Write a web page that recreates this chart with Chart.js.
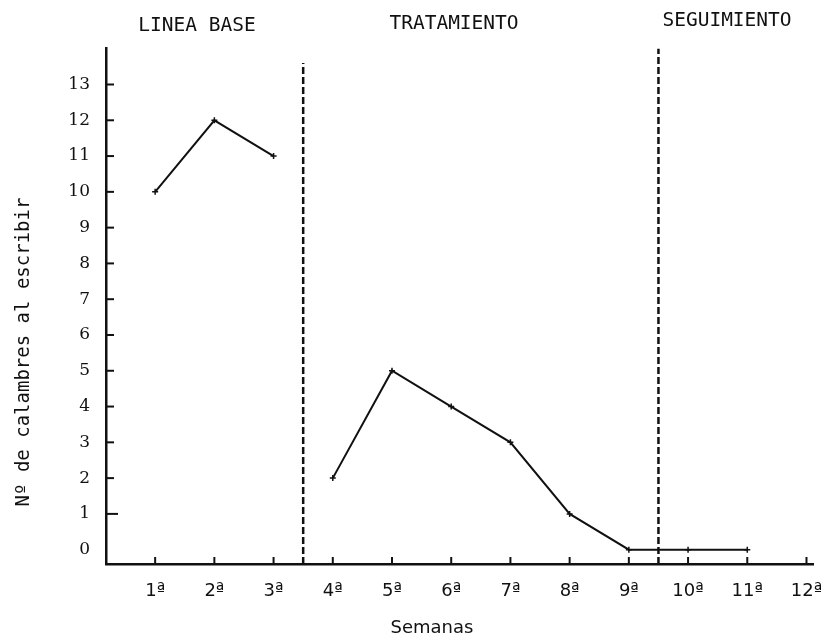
<!DOCTYPE html>
<html>
<head>
<meta charset="utf-8">
<script src="https://cdn.jsdelivr.net/npm/chart.js@4.4.1/dist/chart.umd.min.js"></script>
<style>
  html, body { margin: 0; padding: 0; background: #ffffff; }
  #wrap { width: 821px; height: 639px; }
</style>
</head>
<body>
<div id="wrap"><canvas id="chart" width="821" height="639"></canvas></div>
<script>
// Weeks on the x axis and their labels
const weeks = [1, 2, 3, 4, 5, 6, 7, 8, 9, 10, 11, 12];
const weekLabels = ['1ª', '2ª', '3ª', '4ª', '5ª', '6ª', '7ª', '8ª', '9ª', '10ª', '11ª', '12ª'];

// Baseline phase
const baselineWeeks = [1, 2, 3];
const baselineValues = [10, 12, 11];

// Treatment + follow-up (drawn as one connected line)
const treatmentWeeks = [4, 5, 6, 7, 8, 9, 10, 11];
const treatmentValues = [2, 5, 4, 3, 1, 0, 0, 0];

// Y axis ticks
const yTicks = [0, 1, 2, 3, 4, 5, 6, 7, 8, 9, 10, 11, 12, 13];

// Phase changes (dashed lines) and phase names
const phaseBreaks = [3.5, 9.5];
const phaseBreakTops = [13.6, 14.0];
const phaseNames = ['LINEA BASE', 'TRATAMIENTO', 'SEGUIMIENTO'];

const yMin = -0.4;
const ink = '#111111';

const toPoints = (xs, ys) => xs.map((x, i) => ({ x: x, y: ys[i] }));

// Inward tick marks, extra texts
const decorations = {
    id: 'decorations',
    afterDraw(chart) {
        const ctx = chart.ctx;
        const xs = chart.scales.x;
        const ys = chart.scales.y;
        const area = chart.chartArea;

        ctx.save();
        ctx.strokeStyle = ink;
        ctx.lineWidth = 2;
        weeks.forEach(w => {
            const px = xs.getPixelForValue(w);
            ctx.beginPath();
            ctx.moveTo(px, area.bottom);
            ctx.lineTo(px, area.bottom - 7);
            ctx.stroke();
        });
        yTicks.forEach(v => {
            if (v === 0) return;
            const py = ys.getPixelForValue(v);
            ctx.beginPath();
            ctx.moveTo(area.left, py);
            ctx.lineTo(area.left + (v === 1 ? 12 : 8), py);
            ctx.stroke();
        });

        // phase headers
        ctx.fillStyle = ink;
        ctx.textAlign = 'center';
        ctx.textBaseline = 'middle';
        ctx.font = '19.5px "DejaVu Sans Mono"';
        ctx.fillText(phaseNames[0], 197, 26);
        ctx.fillText(phaseNames[1], 454, 24);
        ctx.fillText(phaseNames[2], 727, 21);

        // x axis title
        ctx.font = '18px "DejaVu Sans"';
        ctx.fillText('Semanas', 432, 628);

        // y axis title
        ctx.translate(24, 352);
        ctx.rotate(-Math.PI / 2);
        ctx.font = '19px "DejaVu Sans Mono"';
        ctx.fillText('Nº de calambres al escribir', 0, 0);
        ctx.restore();
    }
};

const dashedSets = phaseBreaks.map((b, i) => ({
    data: [{ x: b, y: yMin }, { x: b, y: phaseBreakTops[i] }],
    showLine: true,
    borderColor: ink,
    borderWidth: 2.5,
    borderDash: [7, 3],
    pointRadius: 0
}));

const seriesStyle = {
    showLine: true,
    borderColor: ink,
    borderWidth: 2,
    pointStyle: 'cross',
    pointRadius: 3,
    pointBorderWidth: 1.5,
    pointBorderColor: ink
};

new Chart(document.getElementById('chart'), {
    type: 'scatter',
    data: {
        datasets: [
            Object.assign({ data: toPoints(baselineWeeks, baselineValues) }, seriesStyle),
            Object.assign({ data: toPoints(treatmentWeeks, treatmentValues) }, seriesStyle),
            ...dashedSets
        ]
    },
    options: {
        responsive: false,
        animation: false,
        devicePixelRatio: 1,
        layout: { padding: { top: 48, right: 8, left: 0, bottom: 0 } },
        plugins: {
            legend: { display: false },
            tooltip: { enabled: false }
        },
        scales: {
            x: {
                type: 'linear',
                min: 0.17,
                max: 12.11,
                afterBuildTicks: scale => { scale.ticks = weeks.map(v => ({ value: v })); },
                afterFit: scale => {
                    scale.height = 75;
                    scale.paddingLeft = 0;
                    scale.paddingRight = 0;
                },
                grid: { display: false, drawTicks: false },
                border: { display: true, color: ink, width: 2.5 },
                ticks: {
                    color: ink,
                    padding: 17,
                    maxRotation: 0,
                    autoSkip: false,
                    font: { family: 'DejaVu Sans', size: 18 },
                    callback: v => weekLabels[weeks.indexOf(v)]
                }
            },
            y: {
                type: 'linear',
                min: yMin,
                max: 14.02,
                afterBuildTicks: scale => { scale.ticks = yTicks.map(v => ({ value: v })); },
                afterFit: scale => {
                    scale.width = 106;
                    scale.paddingTop = 0;
                    scale.paddingBottom = 0;
                },
                grid: { display: false, drawTicks: false },
                border: { display: true, color: ink, width: 2.5 },
                ticks: {
                    color: ink,
                    padding: 16,
                    font: { family: 'DejaVu Serif', size: 17 },
                    callback: v => String(v)
                }
            }
        }
    },
    plugins: [decorations]
});
</script>
</body>
</html>
